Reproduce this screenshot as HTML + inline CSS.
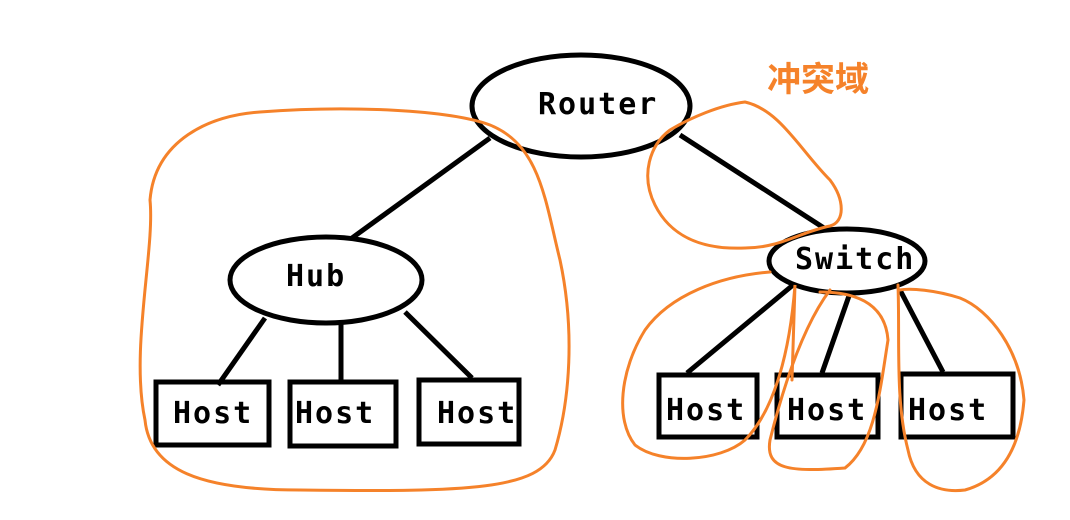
<!DOCTYPE html>
<html><head><meta charset="utf-8"><style>
html,body{margin:0;padding:0;background:#fff;}
svg{display:block;}
.t{font-family:"DejaVu Sans Mono","Liberation Mono",monospace;font-weight:bold;font-size:30px;letter-spacing:2px;fill:#000;}
</style></head><body>
<svg width="1070" height="520" viewBox="0 0 1070 520" xmlns="http://www.w3.org/2000/svg">
<g stroke="#000" stroke-width="5" fill="none">
<ellipse cx="581" cy="106" rx="109" ry="51"/>
<ellipse cx="326" cy="280" rx="96" ry="43"/>
<ellipse cx="847" cy="261" rx="78" ry="32"/>
<line x1="490" y1="138" x2="352" y2="238"/>
<line x1="680" y1="135" x2="824" y2="228"/>
<line x1="265" y1="318" x2="218" y2="385"/>
<line x1="341" y1="323" x2="341" y2="380"/>
<line x1="405" y1="312" x2="472" y2="378"/>
<line x1="793" y1="285" x2="687" y2="373"/>
<line x1="850" y1="293" x2="822" y2="373"/>
<line x1="900" y1="290" x2="943" y2="372"/>
<rect x="156" y="382" width="113" height="63"/>
<rect x="290" y="382" width="106" height="64"/>
<rect x="419" y="380" width="100" height="64"/>
<rect x="659" y="375" width="98" height="62"/>
<rect x="777" y="375" width="101" height="62"/>
<rect x="901" y="374" width="112" height="63"/>
</g>
<text class="t" x="538" y="114">Router</text>
<text class="t" x="286" y="286">Hub</text>
<text class="t" x="795" y="269">Switch</text>
<text class="t" x="173" y="423">Host</text>
<text class="t" x="295" y="423">Host</text>
<text class="t" x="437" y="423">Host</text>
<text class="t" x="666" y="420">Host</text>
<text class="t" x="787" y="420">Host</text>
<text class="t" x="908" y="420">Host</text>
<text x="767" y="91" style="font-family:'Liberation Sans','Noto Sans CJK SC',sans-serif;font-weight:bold;font-size:34px;fill:#f5822a;">冲突域</text>
<g stroke="#f5822a" stroke-width="3" fill="none" stroke-linecap="round">
<path d="M260,112 C350,105 450,110 490,125 C540,145 545,200 560,260 C575,330 570,400 555,450 C540,490 470,492 300,490 C200,490 150,470 145,420 C130,350 155,250 150,200 C155,140 210,115 260,112 Z"/>
<path d="M745,102 C780,110 800,150 830,180 C845,200 845,222 830,226 C800,232 780,248 745,248 C700,250 670,235 655,205 C640,175 650,145 670,130 C690,118 720,105 745,102"/>
<path d="M770,272 C720,276 670,295 645,330 C620,370 615,420 635,445 C660,465 720,462 745,440 C775,410 790,350 795,285 L792,380"/>
<path d="M830,290 C800,330 780,400 770,440 C765,470 790,472 845,468 C875,445 880,390 888,340 C885,300 850,292 820,292"/>
<path d="M898,285 C900,340 895,400 908,450 C915,485 940,493 965,490 C1000,480 1020,450 1024,400 C1020,350 990,310 960,298 C935,290 910,288 900,290"/>
</g>
</svg>
</body></html>
